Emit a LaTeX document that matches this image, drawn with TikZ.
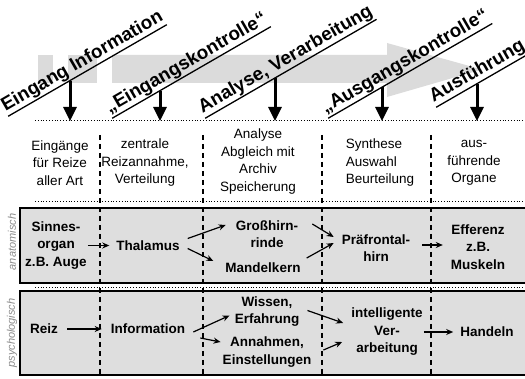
\documentclass[tikz,border=0pt]{standalone}
\usepackage{fontspec}
\setmainfont{Liberation Sans}
\usepackage{tikz}
\usetikzlibrary{arrows.meta, positioning, calc}

\definecolor{arrowgray}{gray}{0.86}
\definecolor{boxgray}{gray}{0.87}
\definecolor{sidegray}{gray}{0.55}

\tikzset{
  colhead/.style={font=\fontsize{13.5}{17.5}\selectfont, align=center, inner sep=1pt},
  item/.style={font=\bfseries\fontsize{13.5}{17.5}\selectfont, align=center, inner sep=1pt},
  phase/.style={font=\bfseries\fontsize{18.8}{22}\selectfont, rotate=30, anchor=base west, inner xsep=0pt, inner ysep=1.2pt},
  sidelabel/.style={font=\itshape\fontsize{11}{13}\selectfont, text=sidegray, rotate=90},
  bigarrow/.style={-{Triangle[width=13pt,length=14pt]}, line width=3pt},
  flow/.style={-{Stealth[length=7pt,width=6pt]}, line width=1.2pt},
  divider/.style={dash pattern=on 5pt off 4pt, line width=1.2pt},
  rowline/.style={dotted, line width=0.8pt},
  panel/.style={draw, line width=1.2pt, fill=boxgray}
}

\begin{document}
\begin{tikzpicture}[x=1pt, y=-1pt]
\useasboundingbox (0,0) rectangle (525,379);

% Grey process arrow
\fill[arrowgray] (38,55) rectangle (53,83);
\fill[arrowgray] (68,55) rectangle (97,83);
\fill[arrowgray] (112,55) -- (387,55) -- (387,43) -- (482,69.5) -- (387,97) -- (387,83) -- (112,83) -- cycle;

% Phase labels
\node[phase] (ph1) at (5.5,111.6) {Eingang Information};
\node[phase] (ph2) at (109.5,113.6) {„Eingangskontrolle“};
\node[phase] (ph3) at (202.5,113.6) {Analyse, Verarbeitung};
\node[phase] (ph4) at (325.5,113.6) {„Ausgangskontrolle“};
\node[phase] (ph5) at (433.5,102.6) {Ausführung};
\draw[line width=1.3pt] (ph1.south west) -- (ph1.south east);
\draw[line width=1.3pt] (ph2.south west) -- (ph2.south east);
\draw[line width=1.3pt] (ph3.south west) -- (ph3.south east);
\draw[line width=1.3pt] (ph4.south west) -- (ph4.south east);
\draw[line width=1.3pt] (ph5.south west) -- (ph5.south east);

% Down arrows
\coordinate (top1) at (70,81);   \coordinate (bot1) at (70,121);
\coordinate (top2) at (160,91);  \coordinate (bot2) at (160,121);
\coordinate (top3) at (275,78);  \coordinate (bot3) at (275,121);
\coordinate (top4) at (382,87);  \coordinate (bot4) at (382,121);
\coordinate (top5) at (477,84);  \coordinate (bot5) at (477,121);
\draw[bigarrow] (top1) -- (bot1);
\draw[bigarrow] (top2) -- (bot2);
\draw[bigarrow] (top3) -- (bot3);
\draw[bigarrow] (top4) -- (bot4);
\draw[bigarrow] (top5) -- (bot5);

% Row lines and panels
\draw[rowline] (35,120) -- (525,120);
\draw[rowline] (35,201) -- (525,201);
\draw[rowline] (35,287) -- (525,287);
\draw[panel] (20,208) rectangle (530,283);
\draw[panel] (20,291) rectangle (530,375);

% Column dividers
\draw[divider] (100,135) -- (100,377);
\draw[divider] (203,135) -- (203,377);
\draw[divider] (322,135) -- (322,377);
\draw[divider] (431,135) -- (431,377);

% Column headings
\node[colhead] (h1) at (60,163) {Eingänge\\für Reize\\aller Art};
\node[colhead] (h2) at (145,163) {zentrale\\Reizannahme,\\Verteilung};
\node[colhead] (h3) at (258,161.5) {Analyse\\Abgleich mit\\Archiv\\Speicherung};
\node[colhead, align=left] (h4) at (380,163) {Synthese\\Auswahl\\Beurteilung};
\node[colhead] (h5) at (474,163) {aus-\\führende\\Organe};

% Side labels
\node[sidelabel] (anat) at (12,242) {anatomisch};
\node[sidelabel] (psych) at (12,333) {psychologisch};

% Anatomical row
\node[item] (sinnes) at (56,245.5) {Sinnes-\\organ\\z.B. Auge};
\node[item] (thal) at (148,245.5) {Thalamus};
\node[item] (gross) at (267,234) {Großhirn-\\rinde};
\node[item] (mandel) at (263,268) {Mandelkern};
\node[item] (praef) at (376,248) {Präfrontal-\\hirn};
\node[item] (eff) at (478,247) {Efferenz\\z.B.\\Muskeln};

\draw[flow] (sinnes.east) -- ([xshift=-6pt]thal.west);
\draw[flow] ([shift={(7pt,7pt)}]thal.east) -- ([shift={(-9pt,9pt)}]gross.west);
\draw[flow] ([shift={(7pt,-3pt)}]thal.east) -- ([shift={(-11pt,7pt)}]mandel.west);
\draw[flow] ([shift={(13pt,10pt)}]gross.east) -- ([shift={(-7pt,11pt)}]praef.west);
\draw[flow] ([shift={(5pt,10pt)}]mandel.east) -- ([shift={(-7pt,5pt)}]praef.west);
\draw[flow] ([shift={(11pt,3pt)}]praef.east) -- ([shift={(-7pt,2pt)}]eff.west);

% Psychological row
\node[item] (reiz) at (44,329) {Reiz};
\node[item] (info) at (148,329) {Information};
\node[item] (wissen) at (267,311.5) {Wissen,\\Erfahrung};
\node[item] (annahmen) at (267,352) {Annahmen,\\Einstellungen};
\node[item] (intell) at (387,332) {intelligente\\Ver-\\arbeitung};
\node[item] (handeln) at (487,332) {Handeln};

\draw[flow] ([xshift=8pt]reiz.east) -- ([xshift=-8pt]info.west);
\draw[flow] ([shift={(7pt,-3pt)}]info.east) -- ([shift={(-4pt,-4pt)}]wissen.west);
\draw[flow] ([shift={(14pt,-9pt)}]info.east) -- ([shift={(-1pt,10pt)}]annahmen.west);
\draw[flow] ([shift={(7pt,1pt)}]wissen.east) -- ([shift={(-7pt,9pt)}]intell.west);
\draw[flow] ([shift={(11pt,2pt)}]annahmen.east) -- ([shift={(-8pt,-10pt)}]intell.west);
\draw[flow] (intell.east) -- ([xshift=-6pt]handeln.west);
\end{tikzpicture}
\end{document}
